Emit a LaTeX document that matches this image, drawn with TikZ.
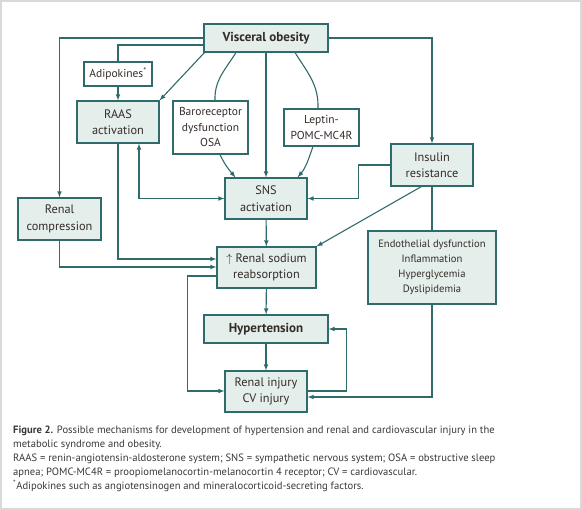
\documentclass[tikz,border=0pt]{standalone}
\usepackage{fontspec}
\setmainfont{PT Sans}
\usepackage{tikz}
\usetikzlibrary{positioning,calc,arrows}
\definecolor{tline}{HTML}{2F6B6B}
\definecolor{tfill}{HTML}{E4EEEB}
\definecolor{ttext}{HTML}{352C28}
\tikzset{
	box/.style={draw=tline, fill=tfill, line width=1.1pt, align=center, inner sep=0pt, text=ttext, font=\fontsize{12.3}{16.5}\selectfont},
	wbox/.style={box, fill=white, font=\fontsize{11.5}{15.5}\selectfont},
	link/.style={draw=tline, line width=1.1pt},
	arr/.style={link, -latex}
}

\begin{document}
\begin{tikzpicture}[x=1pt,y=-1pt]
\useasboundingbox (0,0) rectangle (582,510);
\draw[black!15, line width=1.5pt] (1,1) rectangle (581,509); % frame

%Boites
\node[box, minimum width=124, minimum height=28, font=\bfseries\fontsize{13}{14}\selectfont] (vo) at (266,38) {Visceral obesity};
\node[wbox, minimum width=68, minimum height=24] (adipo) at (118,74) {Adipokines\textsuperscript{*}};
\node[box, minimum width=82, minimum height=42] (raas) at (118,122) {RAAS\\activation};
\node[wbox, minimum width=75, minimum height=53] (baro) at (210.5,127.5) {Baroreceptor\\dysfunction\\OSA};
\node[wbox, minimum width=75, minimum height=37] (leptin) at (321.5,127.5) {Leptin-\\POMC-MC4R};
\node[box, minimum width=82, minimum height=42] (insulin) at (432,165) {Insulin\\resistance};
\node[box, minimum width=82, minimum height=41] (sns) at (266,198.5) {SNS\\activation};
\node[box, minimum width=83, minimum height=42] (rcomp) at (59.5,219) {Renal\\compression};
\node[box, minimum width=99, minimum height=41] (rsod) at (266.5,267.5) {$\uparrow$ Renal sodium\\reabsorption};
\node[box, minimum width=128, minimum height=73, font=\fontsize{10.6}{15}\selectfont] (endo) at (432,267.5) {Endothelial dysfunction\\Inflammation\\Hyperglycemia\\Dyslipidemia};
\node[box, minimum width=124, minimum height=28, font=\bfseries\fontsize{13}{14}\selectfont] (hyp) at (266,329) {Hypertension};
\node[box, minimum width=82, minimum height=41] (rinj) at (266,391.5) {Renal injury\\CV injury};

%Fleches depuis l'obesite
\draw[arr] (vo.west |- 0,38) -| (rcomp.north);
\draw[link] ($(vo.west)+(0,7)$) -| (adipo.north);
\draw[arr] (adipo) -- (raas);
\draw[arr] ($(vo.south west)+(1,0)$) -- (raas.north east);
\draw[link] ($(vo.south)+(-30,0)$) to[out=-122,in=92] ($(baro.north)+(4.5,0)$);
\draw[arr] ($(baro.south)+(9.5,0)$) to[out=-65,in=130] ($(sns.north west)+(11,0)$);
\draw[link] ($(vo.south)+(29,0)$) to[out=-58,in=88] ($(leptin.north)+(-3.5,0)$);
\draw[arr] ($(leptin.south)+(-8.5,0)$) to[out=-110,in=50] ($(sns.north east)+(-10,0)$);
\draw[arr] (vo) -- (sns);
\draw[arr] (vo.east) -| (insulin.north);

%Reseau du milieu
\draw[arr] (raas.south) |- ($(rsod.west)+(0,-8.5)$);
\draw[arr] (rcomp.south) |- ($(rsod.west)+(0,-0.5)$);
\draw[latex-latex, link] ($(raas.south)+(21,0)$) |- (sns.west);
\draw[arr] (insulin.west) -- ++(-32,0) |- (sns.east);
\draw[arr] ($(insulin.south west)+(31,0)$) -- (rsod.north east);
\draw[link] (insulin) -- (endo);
\draw[arr] (sns) -- (rsod);
\draw[arr] (rsod) -- (hyp);
\draw[arr] (hyp) -- (rinj);

%Boucles
\draw[arr] ($(rsod.west)+(0,8.5)$) -- ++(-29,0) |- ($(rinj.west)+(0,-0.5)$);
\draw[arr] ($(rinj.east)+(0,-0.5)$) -- ++(39,0) |- (hyp.east);
\draw[arr] (endo.south) |- ($(rinj.east)+(0,5.5)$);

%Legende
\node[anchor=north west, align=left, inner sep=0pt, text=black!78, font=\fontsize{10.6}{14}\selectfont] (legende) at (13,426)
{\textbf{Figure 2.} Possible mechanisms for development of hypertension and renal and cardiovascular injury in the\\
metabolic syndrome and obesity.\\
RAAS = renin-angiotensin-aldosterone system; SNS = sympathetic nervous system; OSA = obstructive sleep\\
apnea; POMC-MC4R = proopiomelanocortin-melanocortin 4 receptor; CV = cardiovascular.\\
\textsuperscript{*}Adipokines such as angiotensinogen and mineralocorticoid-secreting factors.};
\end{tikzpicture}
\end{document}
